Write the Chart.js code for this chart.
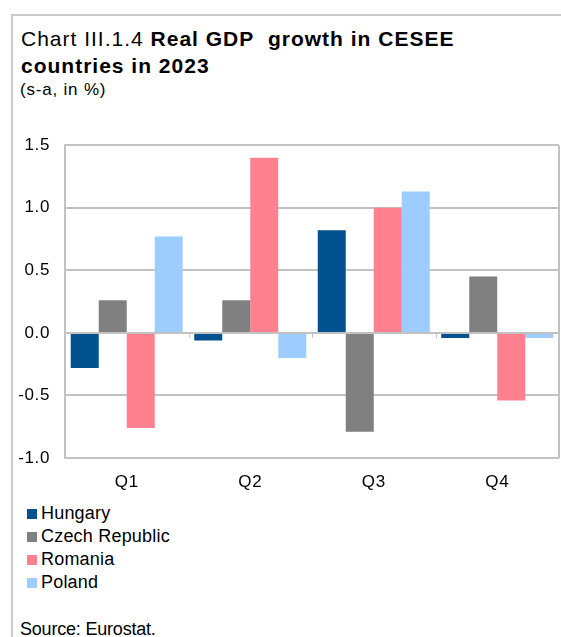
<!DOCTYPE html>
<html>
<head>
<meta charset="utf-8">
<script src="https://cdn.jsdelivr.net/npm/chart.js@4/dist/chart.umd.min.js"></script>
<style>
  html, body { margin: 0; padding: 0; background: #fff; }
  body { width: 561px; height: 637px; position: relative; overflow: hidden; font-family: "Liberation Sans", Arial, sans-serif; color: #000; }
  .frame { position: absolute; left: 11px; top: 14px; right: 0; bottom: 0; border-top: 2px solid #cacaca; border-left: 2px solid #cacaca; }
  .title { position: absolute; left: 21px; top: 25px; font-size: 21px; line-height: 27px; letter-spacing: 1px; white-space: nowrap; }
  .title b { font-weight: bold; }
  .unit { position: absolute; left: 20px; top: 80px; font-size: 17px; line-height: 20px; letter-spacing: 0.8px; }
  #chart { position: absolute; left: 0; top: 120px; }
  .legend { position: absolute; left: 27px; top: 502px; font-size: 18px; line-height: 23px; letter-spacing: 0.2px; }
  .legend div { display: flex; align-items: center; height: 23px; white-space: nowrap; }
  .legend span.sw { display: inline-block; width: 10px; height: 10px; margin-right: 4px; }
  .source { position: absolute; left: 20px; top: 619px; font-size: 18px; line-height: 21px; letter-spacing: -0.2px; white-space: nowrap; }
</style>
</head>
<body>
<div class="frame"></div>
<div class="title">Chart III.1.4 <b>Real GDP&nbsp; growth in CESEE</b><br><b>countries in 2023</b></div>
<div class="unit">(s-a, in %)</div>
<canvas id="chart" width="561" height="380"></canvas>
<div class="legend" id="legend"></div>
<div class="source">Source: Eurostat.</div>
<script>
  const quarters = ['Q1', 'Q2', 'Q3', 'Q4'];
  const countries = ['Hungary', 'Czech Republic', 'Romania', 'Poland'];
  const hungary = [-0.28, -0.06, 0.82, -0.04];
  const czech   = [0.26, 0.26, -0.79, 0.45];
  const romania = [-0.76, 1.40, 1.00, -0.54];
  const poland  = [0.77, -0.20, 1.13, -0.04];
  const colors  = ['#02528f', '#808080', '#ff808e', '#9dcdff'];

  const yMin = -1, yMax = 1.5, yStep = 0.5;
  const gridColor = '#c2c2c2';
  const axisFont = { family: '"Liberation Sans", Arial, sans-serif', size: 17 };

  // plot box right edge + small category ticks on the zero line
  const frame = {
    id: 'frame',
    afterDraw(chart) {
      const { ctx, chartArea, scales } = chart;
      const y0 = scales.y.getPixelForValue(0);
      ctx.save();
      ctx.strokeStyle = gridColor;
      ctx.lineWidth = 2;
      ctx.beginPath();
      ctx.moveTo(chartArea.right, chartArea.top);
      ctx.lineTo(chartArea.right, chartArea.bottom);
      ctx.stroke();
      ctx.lineWidth = 1;
      for (let i = 1; i < quarters.length; i++) {
        const x = Math.round((scales.x.getPixelForValue(i - 1) + scales.x.getPixelForValue(i)) / 2) + 0.5;
        ctx.beginPath();
        ctx.moveTo(x, y0);
        ctx.lineTo(x, y0 + 5);
        ctx.stroke();
      }
      ctx.restore();
    }
  };

  const spacing = {
    id: 'spacing',
    beforeDraw(chart) { chart.ctx.letterSpacing = '0.6px'; }
  };

  const series = [hungary, czech, romania, poland];

  const chart = new Chart(document.getElementById('chart'), {
    type: 'bar',
    data: {
      labels: quarters,
      datasets: series.map((d, i) => ({
        label: countries[i],
        data: d,
        backgroundColor: colors[i],
        borderWidth: 0,
        categoryPercentage: 0.907,
        barPercentage: 1
      }))
    },
    options: {
      responsive: false,
      animation: false,
      devicePixelRatio: 1,
      layout: { padding: { top: 23, right: 2, left: 0, bottom: 0 } },
      plugins: { legend: { display: false }, tooltip: { enabled: false } },
      scales: {
        x: {
          afterFit: axis => { axis.height = 42; },
          grid: { display: false },
          border: { display: false },
          ticks: { color: '#000', padding: 6, maxRotation: 0, font: axisFont }
        },
        y: {
          min: yMin,
          max: yMax,
          afterFit: axis => { axis.width = 65; },
          grid: { color: gridColor, lineWidth: 2, drawTicks: false },
          border: { display: true, color: gridColor, width: 2 },
          ticks: {
            stepSize: yStep,
            color: '#000',
            padding: 15,
            font: axisFont,
            callback: v => v.toFixed(1)
          }
        }
      }
    },
    plugins: [frame, spacing]
  });

  const legend = document.getElementById('legend');
  chart.data.datasets.forEach(ds => {
    const row = document.createElement('div');
    const sw = document.createElement('span');
    sw.className = 'sw';
    sw.style.background = ds.backgroundColor;
    row.appendChild(sw);
    row.appendChild(document.createTextNode(ds.label));
    legend.appendChild(row);
  });
</script>
</body>
</html>
